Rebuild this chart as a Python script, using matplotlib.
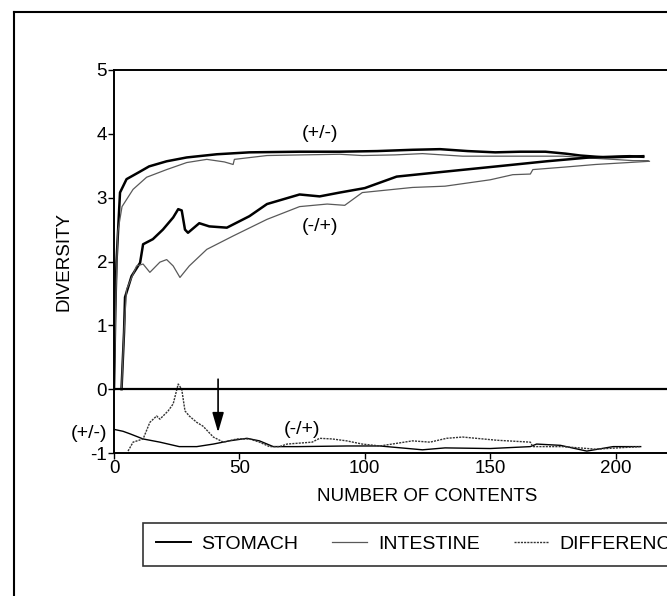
import matplotlib.pyplot as plt
from matplotlib.lines import Line2D

# (+/-) diet : stomach and intestine diversity
pm_stom_x = [0, 0.5, 1, 2.4, 5, 10, 14, 21, 29, 41, 54, 74, 90, 105, 119, 130, 141, 152, 162, 172, 180, 186, 196, 204, 211]
pm_stom_y = [0, 1.2, 2.0, 3.08, 3.29, 3.4, 3.49, 3.57, 3.63, 3.68, 3.71, 3.72, 3.72, 3.73, 3.75, 3.76, 3.73, 3.71, 3.72, 3.72, 3.69, 3.66, 3.63, 3.64, 3.65]
pm_int_x = [0, 0.8, 1.5, 3.2, 7.6, 13, 21, 29, 37, 44, 47.5, 48, 61, 75, 90, 99, 112, 123, 139, 160, 179, 190, 199, 207, 213]
pm_int_y = [0, 1.5, 2.46, 2.86, 3.13, 3.32, 3.44, 3.55, 3.6, 3.56, 3.52, 3.6, 3.66, 3.67, 3.68, 3.66, 3.67, 3.69, 3.65, 3.65, 3.65, 3.62, 3.6, 3.58, 3.58]

# (-/+) diet : stomach and intestine diversity
mp_stom_x = [3, 4, 4.4, 7, 10.4, 11.6, 15.5, 19.5, 23.6, 25.6, 27, 28.3, 29.5, 34, 38, 45, 54, 61, 74, 82, 90, 100, 112.7, 130, 152.6, 172.5, 189.6, 205.6, 211]
mp_stom_y = [0, 0.89, 1.44, 1.77, 1.98, 2.27, 2.35, 2.5, 2.69, 2.82, 2.8, 2.5, 2.45, 2.6, 2.55, 2.53, 2.71, 2.9, 3.05, 3.02, 3.08, 3.15, 3.33, 3.4, 3.49, 3.57, 3.63, 3.65, 3.64]
mp_int_x = [3, 4, 5, 9, 11.6, 14.3, 18.3, 21, 23.6, 26.3, 30, 37, 47.5, 61, 74, 85, 92, 99, 119, 132, 150, 159, 166, 167, 180, 192, 205, 213.5]
mp_int_y = [0, 0.9, 1.56, 1.93, 1.96, 1.83, 1.99, 2.03, 1.93, 1.75, 1.93, 2.19, 2.4, 2.66, 2.86, 2.9, 2.88, 3.08, 3.16, 3.18, 3.28, 3.36, 3.37, 3.44, 3.48, 3.52, 3.55, 3.57]

# differences (drawn offset by -1)
pm_diff_x = [0, 3.6, 6.4, 11.6, 18.3, 26, 33, 39.6, 46, 53, 58, 63.5, 73, 93, 106, 123, 132, 150, 166, 168.5, 178, 188.5, 199, 210]
pm_diff_y = [-0.63, -0.66, -0.7, -0.78, -0.83, -0.9, -0.9, -0.86, -0.81, -0.77, -0.81, -0.9, -0.9, -0.89, -0.89, -0.95, -0.92, -0.93, -0.9, -0.86, -0.88, -0.97, -0.9, -0.9]
mp_diff_x = [5.6, 7.6, 11.6, 14.3, 17, 18.3, 21.6, 23.6, 25.6, 27, 28.3, 30, 33, 35.5, 39.6, 43.6, 49, 54, 58, 62, 66, 69, 79, 82, 87, 92.8, 99, 106, 119, 126, 132.6, 139, 152.6, 166, 167, 179, 192, 209.6]
mp_diff_y = [-0.97, -0.83, -0.78, -0.52, -0.42, -0.47, -0.34, -0.23, 0.08, 0.0, -0.34, -0.42, -0.52, -0.58, -0.75, -0.83, -0.78, -0.78, -0.83, -0.9, -0.9, -0.86, -0.83, -0.77, -0.78, -0.81, -0.86, -0.89, -0.81, -0.83, -0.77, -0.75, -0.8, -0.83, -0.9, -0.9, -0.94, -0.9]

xticks = [0, 50, 100, 150, 200]
yticks = [-1, 0, 1, 2, 3, 4, 5]

plt.rcParams['font.family'] = ['Liberation Sans', 'DejaVu Sans']
plt.rcParams['axes.unicode_minus'] = False

fig = plt.figure(figsize=(6.67, 5.96), dpi=100)
W, H = 667, 596
ax = fig.add_axes([114 / W, 1 - 453 / H, (741 - 114) / W, (453 - 70) / H])

ax.plot(pm_stom_x, pm_stom_y, color='black', lw=1.8)
ax.plot(pm_int_x, pm_int_y, color='0.35', lw=0.9)
ax.plot(mp_stom_x, mp_stom_y, color='black', lw=1.8)
ax.plot(mp_int_x, mp_int_y, color='0.35', lw=0.9)
ax.plot(pm_diff_x, pm_diff_y, color='black', lw=1.0)
ax.plot(mp_diff_x, mp_diff_y, color='0.2', lw=1.0, ls=(0, (1.5, 0.8)))

ax.axhline(0, color='black', lw=1.6)

ax.set_xlim(0, 250)
ax.set_ylim(-1, 5)
ax.set_xticks(xticks)
ax.set_yticks(yticks)
ax.spines['right'].set_visible(False)
for s in ['left', 'bottom', 'top']:
    ax.spines[s].set_linewidth(1.4)
ax.tick_params(direction='out', length=4, width=1, labelsize=13.5, pad=1)

ax.set_xlabel('NUMBER OF CONTENTS', fontsize=13.5, labelpad=8)
ax.set_ylabel('DIVERSITY', fontsize=13.5, labelpad=13)

ax.text(82, 4.0, '(+/-)', fontsize=14, ha='center', va='center')
ax.text(82, 2.55, '(-/+)', fontsize=14, ha='center', va='center')
ax.text(-9.8, -0.7, '(+/-)', fontsize=14, ha='center', va='center', clip_on=False)
ax.text(75, -0.63, '(-/+)', fontsize=14, ha='center', va='center')
ax.annotate('', xy=(41.5, -0.72), xytext=(41.5, 0.2),
            arrowprops=dict(arrowstyle='-|>,head_width=0.35,head_length=1.2', color='black', lw=1.2))

# outer frame
fig.add_artist(Line2D([14 / W, 14 / W], [0, 1 - 12 / H], color='black', lw=1.5))
fig.add_artist(Line2D([14 / W, 1], [1 - 12 / H, 1 - 12 / H], color='black', lw=1.5))

handles = [Line2D([], [], color='black', lw=1.4),
           Line2D([], [], color='0.35', lw=0.9),
           Line2D([], [], color='0.2', lw=1.0, ls=(0, (1.5, 0.8)))]
leg = fig.legend(handles, ['STOMACH', 'INTESTINE', 'DIFFERENCE'], ncol=3,
                 loc='upper left', bbox_to_anchor=(143 / W, 1 - 523 / H),
                 fontsize=14, frameon=True, fancybox=False, edgecolor='black',
                 handlelength=1.8, columnspacing=1.75, handletextpad=0.55,
                 borderpad=0.65, borderaxespad=0)
leg.get_frame().set_linewidth(1.2)

fig.savefig('out.png', dpi=100)
